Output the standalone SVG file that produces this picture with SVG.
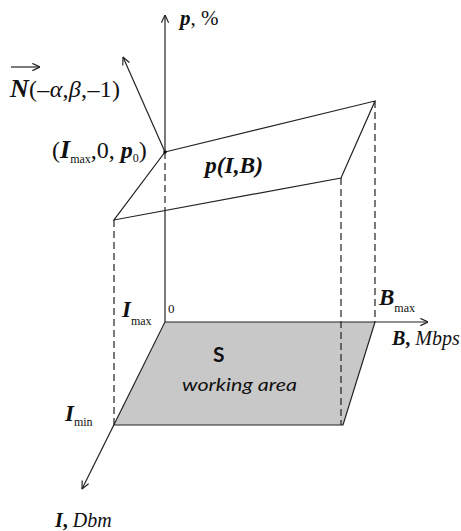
<svg xmlns="http://www.w3.org/2000/svg" width="461" height="531" viewBox="0 0 461 531">
<style>
.ln{stroke:#222;stroke-width:1.2;fill:none}
.ds{stroke:#222;stroke-width:1.2;fill:none;stroke-dasharray:7 4}
.t{font-family:"Liberation Serif","Times New Roman",serif;fill:#111}
.bi{font-weight:bold;font-style:italic}
.it{font-style:italic}
.sub{font-size:12px}
.sans{font-family:Lato,"Open Sans","Liberation Sans",sans-serif;fill:#111}
</style>
<defs>
<marker id="ar" viewBox="0 0 10 10" refX="9.5" refY="5" markerWidth="9" markerHeight="9" markerUnits="userSpaceOnUse" orient="auto">
<path d="M1,1 L9.5,5 L1,9" fill="none" stroke="#222" stroke-width="1.3"/>
</marker>
</defs>
<rect width="461" height="531" fill="#fff"/>
<g id="working-area">
<polygon points="166,322 375,322 343,425 114,425" fill="#c8c8c8"/>
<path class="ln" d="M114,425 L343,425 L375,322"/>
</g>
<g id="connectors">
<line class="ln" x1="165" y1="152" x2="165" y2="15" marker-end="url(#ar)"/>
<line class="ds" x1="165" y1="152" x2="165" y2="210"/>
<line class="ln" x1="165" y1="210" x2="165" y2="322"/>
<line class="ln" x1="165" y1="322" x2="428" y2="322" marker-end="url(#ar)"/>
<line class="ln" x1="165" y1="322" x2="82" y2="489" marker-end="url(#ar)"/>
<line class="ln" x1="165" y1="152" x2="123" y2="57" marker-end="url(#ar)"/>
<line class="ds" x1="114" y1="220" x2="114" y2="425"/>
<line class="ds" x1="341" y1="178" x2="341" y2="425"/>
<line class="ds" x1="375" y1="101" x2="375" y2="322"/>
</g>
<g id="plane">
<polygon class="ln" points="165,152 375,101 341,178 114,220"/>
<circle cx="165" cy="152" r="1.8" fill="#111"/>
</g>
<g id="labels">
<text class="t" x="180" y="25" font-size="21"><tspan class="bi">p</tspan>, %</text>
<g id="normal-label">
<line class="ln" x1="11" y1="67" x2="40" y2="67" marker-end="url(#ar)"/>
<text class="t" x="10" y="97" font-size="24" textLength="110" lengthAdjust="spacing"><tspan class="bi" font-size="26">N</tspan>(–<tspan class="it">α</tspan>,<tspan class="it">β</tspan>,–1)</text>
</g>
<text class="t" x="52" y="158" font-size="24">(<tspan class="bi" font-size="26">I</tspan><tspan class="sub" dy="5">max</tspan><tspan dy="-5">,0,</tspan><tspan class="bi"> p</tspan><tspan class="sub" dy="4">0</tspan><tspan dy="-4">)</tspan></text>
<text class="t bi" x="205" y="173" font-size="23" textLength="58" lengthAdjust="spacingAndGlyphs">p(I,B)</text>
<text class="t" x="122" y="317" font-size="23"><tspan class="bi">I</tspan><tspan class="sub" dy="8">max</tspan></text>
<text class="t" x="168" y="313" font-size="13">0</text>
<text class="t" x="379" y="305" font-size="23"><tspan class="bi">B</tspan><tspan class="sub" dy="7">max</tspan></text>
<text class="t" x="392" y="345" font-size="20"><tspan class="bi">B</tspan><tspan font-weight="bold">,</tspan> <tspan class="it">Mbps</tspan></text>
<text class="t" x="65" y="421" font-size="23"><tspan class="bi">I</tspan><tspan class="sub" dy="5">min</tspan></text>
<text class="t" x="55" y="527" font-size="20"><tspan class="bi">I</tspan><tspan font-weight="bold">,</tspan> <tspan class="it">Dbm</tspan></text>
<text class="sans" x="213" y="362" font-size="21" font-weight="bold">S</text>
<text class="sans" x="182" y="391" font-size="17" font-style="italic" textLength="115" lengthAdjust="spacingAndGlyphs">working area</text>
</g>
</svg>
